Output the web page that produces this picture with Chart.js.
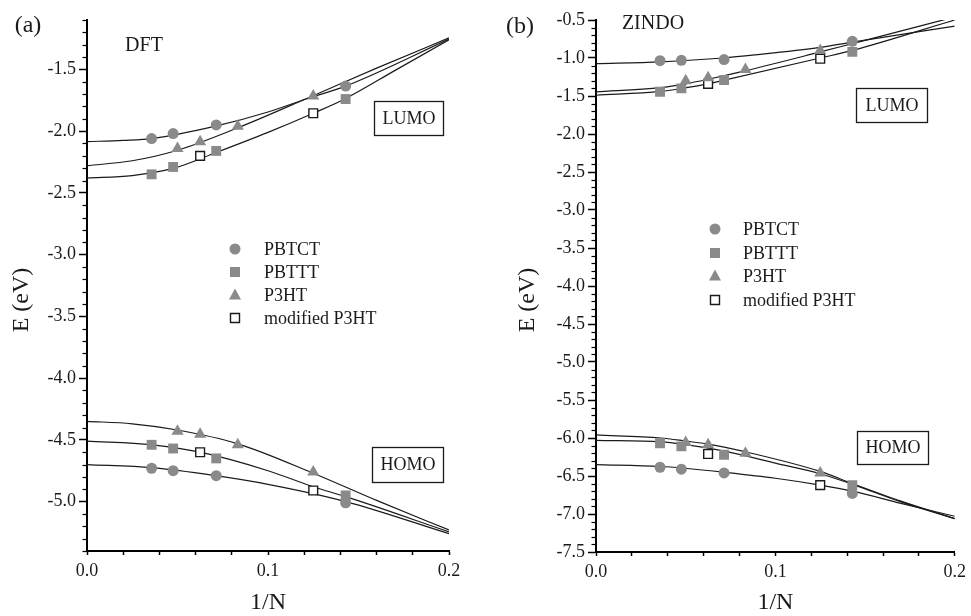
<!DOCTYPE html>
<html>
<head>
<meta charset="utf-8">
<script src="https://cdn.jsdelivr.net/npm/chart.js@4.4.1/dist/chart.umd.min.js"></script>
<style>
html, body { margin: 0; padding: 0; background: #fff; }
body { width: 971px; height: 616px; position: relative; overflow: hidden; }
#wrapA { position: absolute; left: 0; top: 0; width: 485px; height: 616px; }
#wrapB { position: absolute; left: 506px; top: 0; width: 465px; height: 616px; }
</style>
</head>
<body>
<div id="wrapA"><canvas id="chartA"></canvas></div>
<div id="wrapB"><canvas id="chartB"></canvas></div>
<script>
// 1/N of the oligomers
const xPBTCT = [0.0357, 0.0476, 0.0714, 0.1429]
const xPBTTT = [0.0357, 0.0476, 0.0714, 0.1429]
const xP3HT = [0.05, 0.0625, 0.0833, 0.125]
const xMod = [0.0625, 0.125]

// DFT (a)
const dftLumoPBTCT = [-2.06, -2.02, -1.95, -1.635]
const dftLumoPBTTT = [-2.35, -2.29, -2.16, -1.74]
const dftLumoP3HT = [-2.14, -2.085, -1.96, -1.715]
const dftLumoMod = [-2.2, -1.855]
const dftHomoPBTCT = [-4.73, -4.75, -4.79, -5.01]
const dftHomoPBTTT = [-4.54, -4.57, -4.65, -4.95]
const dftHomoP3HT = [-4.43, -4.455, -4.54, -4.76]
const dftHomoMod = [-4.6, -4.91]

// ZINDO (b)
const zinLumoPBTCT = [-1.035, -1.03, -1.02, -0.78]
const zinLumoPBTTT = [-1.445, -1.4, -1.29, -0.92]
const zinLumoP3HT = [-1.3, -1.26, -1.15, -0.9]
const zinLumoMod = [-1.34, -1.01]
const zinHomoPBTCT = [-6.385, -6.41, -6.46, -6.73]
const zinHomoPBTTT = [-6.07, -6.11, -6.22, -6.62]
const zinHomoP3HT = [-6.06, -6.09, -6.2, -6.46]
const zinHomoMod = [-6.21, -6.62]

// fitted curves
const dftFitLumoPBTCT = [[0, 0.02, 0.036, 0.071, 0.1, 0.123, 0.143, 0.2], [-2.085, -2.075, -2.06, -1.96, -1.845, -1.73, -1.635, -1.255]]
const dftFitLumoP3HT = [[0, 0.025, 0.05, 0.083, 0.123, 0.16, 0.2], [-2.28, -2.24, -2.155, -1.975, -1.725, -1.49, -1.245]]
const dftFitLumoPBTTT = [[0, 0.025, 0.048, 0.071, 0.1, 0.125, 0.143, 0.17, 0.2], [-2.38, -2.36, -2.3, -2.175, -2.01, -1.855, -1.735, -1.51, -1.26]]
const dftFitHomoP3HT = [[0, 0.025, 0.05, 0.083, 0.125, 0.16, 0.2], [-4.35, -4.37, -4.42, -4.53, -4.77, -4.99, -5.23]]
const dftFitHomoPBTTT = [[0, 0.036, 0.0625, 0.1, 0.125, 0.143, 0.2], [-4.51, -4.54, -4.6, -4.75, -4.88, -4.96, -5.245]]
const dftFitHomoPBTCT = [[0, 0.036, 0.071, 0.1, 0.143, 0.2], [-4.7, -4.725, -4.79, -4.86, -5.0, -5.26]]

const zinFitLumoPBTCT = [[0, 0.036, 0.071, 0.0885, 0.125, 0.143, 0.2], [-1.075, -1.05, -1.0, -0.96, -0.86, -0.79, -0.58]]
const zinFitLumoP3HT = [[0, 0.036, 0.05, 0.0625, 0.083, 0.125, 0.143, 0.2], [-1.445, -1.39, -1.34, -1.28, -1.17, -0.92, -0.81, -0.46]]
const zinFitLumoPBTTT = [[0, 0.036, 0.048, 0.0625, 0.071, 0.125, 0.143, 0.2], [-1.49, -1.44, -1.4, -1.34, -1.295, -1.0, -0.9, -0.5]]
const zinFitHomoP3HT = [[0, 0.036, 0.05, 0.0625, 0.083, 0.125, 0.143, 0.17, 0.2], [-5.96, -6.0, -6.04, -6.08, -6.18, -6.44, -6.6, -6.83, -7.06]]
const zinFitHomoPBTTT = [[0, 0.036, 0.048, 0.071, 0.1, 0.125, 0.143, 0.17, 0.2], [-6.03, -6.05, -6.08, -6.17, -6.33, -6.47, -6.61, -6.84, -7.06]]
const zinFitHomoPBTCT = [[0, 0.036, 0.048, 0.071, 0.1, 0.125, 0.143, 0.17, 0.2], [-6.35, -6.375, -6.395, -6.45, -6.53, -6.62, -6.7, -6.86, -7.03]]

const GRAY = '#8a8a8a'
const INK = '#1a1a1a'
const SERIF = "'Liberation Serif', 'Times New Roman', serif"

const zip = (xs, ys) => xs.map((x, i) => ({ x: x, y: ys[i] }))

const markerStyles = [
    { label: 'PBTCT', pointStyle: 'circle', radius: 5.5, fill: GRAY, stroke: GRAY, width: 0 },
    { label: 'PBTTT', pointStyle: 'rect', radius: 7, fill: GRAY, stroke: GRAY, width: 0 },
    { label: 'P3HT', pointStyle: 'triangle', radius: 7, fill: GRAY, stroke: GRAY, width: 0 },
    { label: 'modified P3HT', pointStyle: 'rect', radius: 6.2, fill: '#fff', stroke: INK, width: 1.4 }
]

function pointSet(style, xs, ys) {
    return {
        type: 'scatter',
        label: style.label,
        data: zip(xs, ys),
        pointStyle: style.pointStyle,
        pointRadius: style.radius,
        pointHoverRadius: style.radius,
        backgroundColor: style.fill,
        borderColor: style.stroke,
        borderWidth: style.width,
        order: 0
    }
}

function curveSet(fit) {
    return {
        type: 'line',
        label: '',
        data: zip(fit[0], fit[1]),
        borderColor: INK,
        borderWidth: 1.2,
        pointRadius: 0,
        cubicInterpolationMode: 'monotone',
        fill: false,
        order: 5
    }
}

function drawMarker(ctx, style, x, y) {
    ctx.save()
    ctx.fillStyle = style.fill
    ctx.strokeStyle = style.stroke
    ctx.lineWidth = style.width
    ctx.beginPath()
    if (style.pointStyle === 'circle') {
        ctx.arc(x, y, 5.5, 0, Math.PI * 2)
    } else if (style.pointStyle === 'triangle') {
        ctx.moveTo(x, y - 6.5)
        ctx.lineTo(x + 6, y + 4.5)
        ctx.lineTo(x - 6, y + 4.5)
        ctx.closePath()
    } else {
        const h = style.width ? 4.5 : 5
        ctx.rect(x - h, y - h, 2 * h, 2 * h)
    }
    ctx.fill()
    if (style.width) ctx.stroke()
    ctx.restore()
}

const decor = {
    id: 'decor',
    afterDraw(chart, args, o) {
        const ctx = chart.ctx
        const ys = chart.scales.y
        const xs = chart.scales.x
        ctx.save()
        // minor ticks on the y axis, every 0.1
        ctx.strokeStyle = '#000'
        ctx.lineWidth = 1.2
        for (let k = Math.ceil(ys.min * 10 - 1e-6); k <= Math.floor(ys.max * 10 + 1e-6); k++) {
            if (k % 5 === 0) continue
            const p = Math.round(ys.getPixelForValue(k / 10)) + 0.5
            ctx.beginPath()
            ctx.moveTo(ys.right, p)
            ctx.lineTo(ys.right - 4.5, p)
            ctx.stroke()
        }
        ctx.fillStyle = INK
        ctx.textBaseline = 'middle'
        ctx.textAlign = 'center'
        // panel tag and method
        ctx.font = '24px ' + SERIF
        ctx.fillText(o.tag[0], o.tag[1], o.tag[2])
        ctx.font = '20px ' + SERIF
        ctx.fillText(o.method[0], o.method[1], o.method[2])
        // y title
        ctx.save()
        ctx.translate(o.yTitle[0], o.yTitle[1])
        ctx.rotate(-Math.PI / 2)
        ctx.font = '24px ' + SERIF
        ctx.fillText('E (eV)', 0, 0)
        ctx.restore()
        // LUMO / HOMO boxes
        ctx.font = '18px ' + SERIF
        ctx.lineWidth = 1.3
        ctx.strokeStyle = INK
        o.boxes.forEach((b) => {
            ctx.strokeRect(b[1] + 0.5, b[2] + 0.5, b[3], b[4])
            ctx.fillText(b[0], b[1] + b[3] / 2 + 0.5, b[2] + b[4] / 2 + 1)
        })
        // legend
        ctx.textAlign = 'left'
        ctx.font = '18px ' + SERIF
        markerStyles.forEach((s, i) => {
            const y = o.legendRows[i]
            drawMarker(ctx, s, o.legendX[0], y)
            ctx.fillStyle = INK
            ctx.fillText(s.label, o.legendX[1], y + 1)
        })
        ctx.restore()
    }
}

function makeChart(id, sets, yMin, yMax, area, deco) {
    return new Chart(document.getElementById(id), {
        type: 'scatter',
        data: { datasets: sets },
        options: {
            responsive: true,
            maintainAspectRatio: false,
            animation: false,
            events: [],
            layout: { padding: { left: 0, top: area.top, right: area.right, bottom: 0 } },
            plugins: {
                legend: { display: false },
                tooltip: { enabled: false },
                decor: deco
            },
            scales: {
                x: {
                    type: 'linear',
                    min: 0,
                    max: 0.2,
                    afterFit: (scale) => { scale.height = area.xHeight },
                    border: { display: true, color: '#000', width: 2 },
                    grid: { drawOnChartArea: false, drawTicks: true, tickLength: 4, tickColor: '#000', tickWidth: 1.5 },
                    ticks: {
                        stepSize: 0.02,
                        padding: 5,
                        color: INK,
                        maxRotation: 0,
                        autoSkip: false,
                        font: { family: SERIF, size: 18 },
                        callback: (v) => Math.abs(v * 10 - Math.round(v * 10)) < 1e-6 ? v.toFixed(1) : ''
                    },
                    title: {
                        display: true,
                        text: '1/N',
                        color: INK,
                        font: { family: SERIF, size: 24, lineHeight: 1 },
                        padding: { top: 0, bottom: 1 }
                    }
                },
                y: {
                    type: 'linear',
                    min: yMin,
                    max: yMax,
                    afterFit: (scale) => { scale.width = area.yWidth },
                    afterBuildTicks: (scale) => {
                        scale.ticks = scale.ticks.filter((t) => Math.abs(t.value * 2 - Math.round(t.value * 2)) < 1e-6)
                    },
                    border: { display: true, color: '#000', width: 2 },
                    grid: { drawOnChartArea: false, drawTicks: true, tickLength: 8, tickColor: '#000', tickWidth: 1.5 },
                    ticks: {
                        stepSize: 0.5,
                        padding: 3,
                        color: INK,
                        font: { family: SERIF, size: 18 },
                        callback: (v) => v.toFixed(1)
                    }
                }
            }
        },
        plugins: [decor]
    })
}

const setsA = [
    pointSet(markerStyles[0], xPBTCT, dftLumoPBTCT),
    pointSet(markerStyles[1], xPBTTT, dftLumoPBTTT),
    pointSet(markerStyles[2], xP3HT, dftLumoP3HT),
    pointSet(markerStyles[3], xMod, dftLumoMod),
    pointSet(markerStyles[0], xPBTCT, dftHomoPBTCT),
    pointSet(markerStyles[1], xPBTTT, dftHomoPBTTT),
    pointSet(markerStyles[2], xP3HT, dftHomoP3HT),
    pointSet(markerStyles[3], xMod, dftHomoMod),
    curveSet(dftFitLumoPBTCT),
    curveSet(dftFitLumoP3HT),
    curveSet(dftFitLumoPBTTT),
    curveSet(dftFitHomoP3HT),
    curveSet(dftFitHomoPBTTT),
    curveSet(dftFitHomoPBTCT)
]

const setsB = [
    pointSet(markerStyles[0], xPBTCT, zinLumoPBTCT),
    pointSet(markerStyles[1], xPBTTT, zinLumoPBTTT),
    pointSet(markerStyles[2], xP3HT, zinLumoP3HT),
    pointSet(markerStyles[3], xMod, zinLumoMod),
    pointSet(markerStyles[0], xPBTCT, zinHomoPBTCT),
    pointSet(markerStyles[1], xPBTTT, zinHomoPBTTT),
    pointSet(markerStyles[2], xP3HT, zinHomoP3HT),
    pointSet(markerStyles[3], xMod, zinHomoMod),
    curveSet(zinFitLumoPBTCT),
    curveSet(zinFitLumoP3HT),
    curveSet(zinFitLumoPBTTT),
    curveSet(zinFitHomoP3HT),
    curveSet(zinFitHomoPBTTT),
    curveSet(zinFitHomoPBTCT)
]

makeChart('chartA', setsA, -5.4, -1.1,
    { top: 20, right: 36, xHeight: 65, yWidth: 87 },
    {
        tag: ['(a)', 28, 26],
        method: ['DFT', 144, 46],
        yTitle: [22, 300],
        boxes: [['LUMO', 374, 101, 69, 34], ['HOMO', 372, 447, 71, 35]],
        legendX: [235, 264],
        legendRows: [249, 272, 295, 318]
    })

makeChart('chartB', setsB, -7.5, -0.5,
    { top: 20, right: 12, xHeight: 64, yWidth: 90 },
    {
        tag: ['(b)', 14, 27],
        method: ['ZINDO', 147, 24],
        yTitle: [22, 300],
        boxes: [['LUMO', 350, 88, 71, 34], ['HOMO', 351, 431, 71, 33]],
        legendX: [209, 237],
        legendRows: [229, 253, 276, 300]
    })
</script>
</body>
</html>
